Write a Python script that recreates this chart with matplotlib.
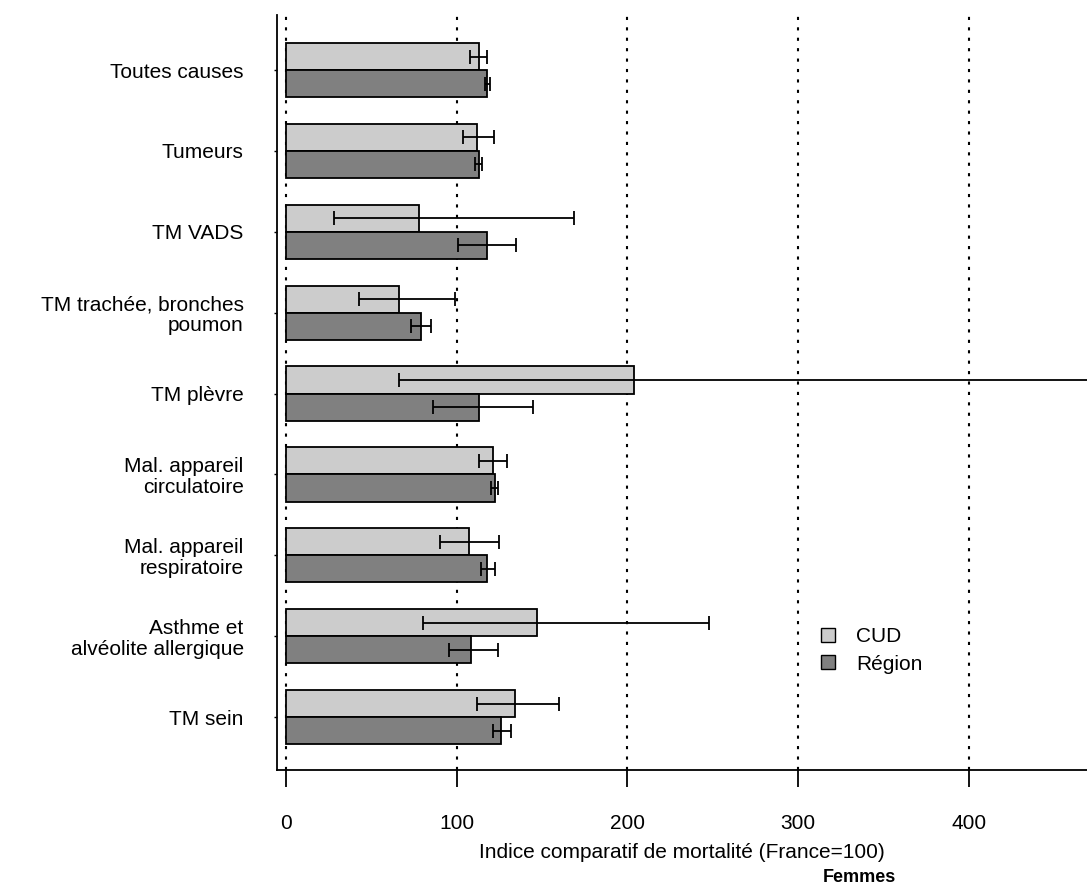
import matplotlib
matplotlib.use("Agg")
import matplotlib.pyplot as plt
from matplotlib.patches import Patch
import numpy as np

plt.rcParams['font.family'] = ['Liberation Sans', 'DejaVu Sans']

categories = ["Toutes causes", "Tumeurs", "TM VADS", "TM trachée, bronches\npoumon",
              "TM plèvre", "Mal. appareil\ncirculatoire", "Mal. appareil\nrespiratoire",
              "Asthme et\nalvéolite allergique", "TM sein"]

# indice comparatif de mortalité and 95% bounds
cud = [113, 112, 78, 66, 204, 121, 107, 147, 134]
cud_low = [108, 103.5, 28, 42.5, 66, 113, 90.5, 80, 112]
cud_high = [117.5, 122, 169, 99, 520, 129.5, 125, 248, 160]

region = [118, 113, 118, 79, 113, 122.5, 118, 108.5, 126]
region_low = [116.5, 110.5, 101, 73, 86, 120, 114, 95.5, 121]
region_high = [119.5, 115, 135, 85, 145, 124, 122.5, 124, 132]

ticks = [0, 100, 200, 300, 400]

fig = plt.figure(figsize=(10.87, 8.86), dpi=100)
ax = fig.add_axes([0.2548, 0.1309, 0.7452, 0.8521])

y = np.arange(len(categories))
h = 0.335

def errs(vals, low, high):
    v = np.array(vals)
    return [v - np.array(low), np.array(high) - v]

ax.barh(y - h / 2, cud, height=h, color='#cccccc', edgecolor='black', linewidth=1.3, zorder=2)
ax.barh(y + h / 2, region, height=h, color='#808080', edgecolor='black', linewidth=1.3, zorder=2)
ax.errorbar(cud, y - h / 2, xerr=errs(cud, cud_low, cud_high), fmt='none',
            ecolor='black', elinewidth=1.3, capsize=5, capthick=1.3, zorder=3)
ax.errorbar(region, y + h / 2, xerr=errs(region, region_low, region_high), fmt='none',
            ecolor='black', elinewidth=1.3, capsize=5, capthick=1.3, zorder=3)

for t in ticks:
    ax.axvline(t, color='black', linestyle=(0, (1.5, 3.5)), linewidth=1.5, zorder=1)

ax.set_xlim(-5.3, 469.3)
ax.set_ylim(8.655, -0.68)

ax.spines['top'].set_visible(False)
ax.spines['right'].set_visible(False)
ax.spines['left'].set_linewidth(1.3)
ax.spines['bottom'].set_linewidth(1.3)

ax.set_xticks(ticks)
ax.tick_params(axis='x', direction='out', length=12, width=1.3, pad=20, labelsize=15)
ax.set_yticks(y)
ax.set_yticklabels(categories, fontsize=15, linespacing=1.12)
ax.tick_params(axis='y', direction='out', length=2, width=1, pad=22)

ax.set_xlabel("Indice comparatif de mortalité (France=100)", fontsize=15, labelpad=7)
fig.text(0.791, 0.0095, "Femmes", fontsize=13, fontweight='bold', ha='center', va='center')

handles = [Patch(facecolor='#cccccc', edgecolor='black', linewidth=1),
           Patch(facecolor='#808080', edgecolor='black', linewidth=1)]
ax.legend(handles, ["CUD", "Région"], loc='upper left', bbox_to_anchor=(0.649, 0.214),
          frameon=False, fontsize=15, handlelength=0.65, handleheight=0.65,
          handletextpad=1.0, labelspacing=0.4)

fig.savefig("out.png", dpi=100)
